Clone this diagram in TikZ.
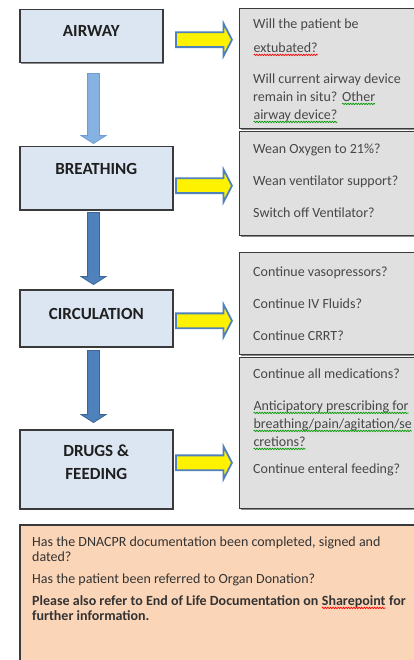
\documentclass[tikz,border=0pt]{standalone}
\usepackage{fontspec}
\setmainfont{Carlito}
\usetikzlibrary{shapes.arrows,positioning,calc,shadows,decorations.pathmorphing}

\definecolor{stagefill}{HTML}{DCE6F2}
\definecolor{qfill}{HTML}{E0E0E0}
\definecolor{notefill}{HTML}{FBD5B7}
\definecolor{edge}{HTML}{3A3A3A}
\definecolor{arrowblue}{HTML}{4F81BD}
\definecolor{arrowdark}{HTML}{3B6594}
\definecolor{arrowlight}{HTML}{86B2E2}
\definecolor{arrowlightedge}{HTML}{6E9DD3}
\definecolor{qtextcol}{HTML}{474747}

% wavy spell-check underline
\newcommand{\wavy}[2]{\tikz[baseline=(w.base)]{\node[inner sep=0pt,outer sep=0pt] (w) {#2};
  \draw[#1,line width=.7pt,decorate,decoration={snake,amplitude=.7pt,segment length=2.6pt}]
    ([yshift=-2pt]w.base west) -- ([yshift=-2pt]w.base east);}}

\begin{document}
\begin{tikzpicture}[x=1pt,y=-1pt,
  stage/.style={rectangle,draw=edge,line width=1.5pt,fill=stagefill,anchor=north west,inner sep=0pt,
    drop shadow={shadow xshift=1pt,shadow yshift=-1.3pt,fill=black,opacity=.45}},
  stagename/.style={font=\fontsize{17}{23}\selectfont\bfseries,text=black!88,align=center},
  qbox/.style={rectangle,draw=edge,line width=1.4pt,fill=qfill,anchor=north west,inner sep=0pt,
    drop shadow={shadow xshift=1pt,shadow yshift=-1.3pt,fill=black,opacity=.45}},
  qtext/.style={anchor=north west,inner sep=0pt,align=left,text=qtextcol,font=\fontsize{14}{18}\selectfont},
  yarrow/.style={single arrow,draw=arrowblue,line width=1.8pt,fill=yellow,inner xsep=0pt,inner ysep=6.5pt,anchor=tip,
    minimum height=56pt,single arrow head extend=9pt,single arrow tip angle=125},
  darrow/.style={single arrow,rotate=-90,fill=arrowblue,draw=arrowdark,line width=.8pt,inner xsep=0pt,inner ysep=5.5pt,anchor=tip,
    minimum height=72pt,single arrow head extend=6.5pt,single arrow tip angle=115}
]
\useasboundingbox (0,0) rectangle (414,660);
\coordinate (spine) at (93.5,0);

% stages on the left
\node[stage,minimum width=143pt,minimum height=53pt,label={[stagename,yshift=5.5pt]center:AIRWAY}] (airway) at (19,9) {};
\node[stage,minimum width=153pt,minimum height=63pt,label={[stagename,yshift=9pt]center:BREATHING}] (breathing) at (19,146) {};
\node[stage,minimum width=153pt,minimum height=57pt,label={[stagename,yshift=4.5pt]center:CIRCULATION}] (circulation) at (19,289) {};
\node[stage,minimum width=153pt,minimum height=79pt,label={[stagename,yshift=7pt]center:{DRUGS \&\\FEEDING}}] (drugs) at (19,429) {};

% questions on the right
\node[qbox,minimum width=190pt,minimum height=120pt] (airwayq) at (239,8) {};
\node[qbox,minimum width=190pt,minimum height=104pt] (breathingq) at (239,131) {};
\node[qbox,minimum width=190pt,minimum height=102pt] (circq) at (239,252) {};
\node[qbox,minimum width=190pt,minimum height=151pt] (drugsq) at (239,357) {};

\node[qtext] (airwayt) at ([shift={(14,11)}]airwayq.north west)
  {Will the patient be\\[6pt]\wavy{red}{extubated?}\\[13pt]Will current airway device\\remain in situ? \wavy{green!60!black}{Other}\\\wavy{green!60!black}{airway device?}};
\node[qtext] (breathingt) at ([shift={(14,13)}]breathingq.north west)
  {Wean Oxygen to 21\%?\\[14pt]Wean ventilator support?\\[14pt]Switch off Ventilator?};
\node[qtext] (circt) at ([shift={(14,15)}]circq.north west)
  {Continue vasopressors?\\[14pt]Continue IV Fluids?\\[14pt]Continue CRRT?};
\node[qtext] (drugst) at ([shift={(14,12)}]drugsq.north west)
  {Continue all medications?\\[14pt]\wavy{green!60!black}{Anticipatory prescribing for}\\\wavy{green!60!black}{breathing/pain/agitation/se}\\\wavy{green!60!black}{cretions?}\\[9pt]Continue enteral feeding?};

% links stage -> questions
\node[yarrow] (ya) at ([shift={(-6,3.5)}]airwayq.west |- airway.east) {};
\node[yarrow] (yb) at ([shift={(-6,7.5)}]breathingq.west |- breathing.east) {};
\node[yarrow] (yc) at ([shift={(-6,2.5)}]circq.west |- circulation.east) {};
\node[yarrow] (yd) at ([shift={(-6,-6.5)}]drugsq.west |- drugs.east) {};

% links stage -> stage
\node[darrow,fill=arrowlight,draw=arrowlightedge,minimum height=70pt] (da) at ([yshift=2pt]breathing.north -| spine) {};
\node[darrow] (db) at ([yshift=4pt]circulation.north -| spine) {};
\node[darrow] (dc) at ([yshift=6pt]drugs.north -| spine) {};

% note at the bottom
\node[stage,fill=notefill,minimum width=410pt,minimum height=150pt] (note) at (19,524) {};
\node[qtext,font=\fontsize{14}{15}\selectfont,text=black!80] (notet) at ([shift={(13,13)}]note.north west)
  {Has the DNACPR documentation been completed, signed and\\dated?\\[7pt]Has the patient been referred to Organ Donation?\\[7pt]\textbf{Please also refer to End of Life Documentation on \wavy{red}{Sharepoint} for}\\\textbf{further information.}};
\end{tikzpicture}
\end{document}
